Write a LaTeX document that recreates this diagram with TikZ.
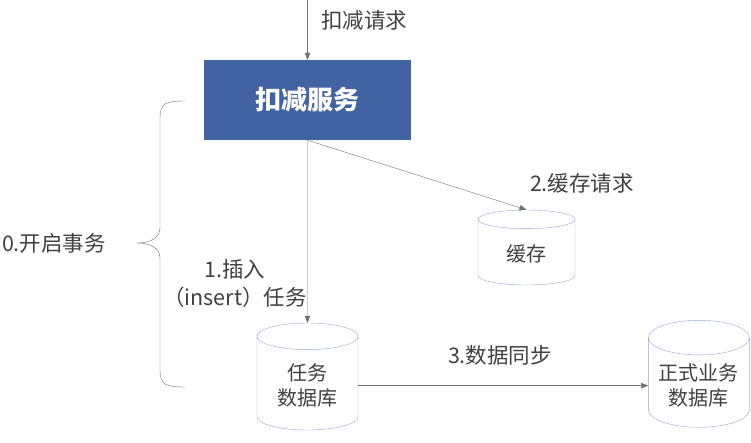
\documentclass[tikz,border=0pt]{standalone}
\usepackage{fontspec}
\setmainfont{Noto Sans CJK SC}
\usepackage{tikz}
\usetikzlibrary{shapes.geometric,arrows.meta,positioning}
\definecolor{svcblue}{RGB}{66,99,161}
\definecolor{dbedge}{RGB}{143,168,218}
\definecolor{inkgray}{RGB}{64,64,64}
\definecolor{wiregray}{RGB}{112,112,112}

\begin{document}
\begin{tikzpicture}[x=1pt,y=-1pt,node distance=290pt,font=\fontsize{21.5}{26}\selectfont,text=inkgray]
  \tikzstyle{service}=[rectangle,fill=svcblue,minimum width=207pt,minimum height=80pt,text=white,font=\fontsize{26}{30}\selectfont\bfseries]
  \tikzstyle{store}=[cylinder,shape border rotate=90,draw=dbedge,fill=white,aspect=0.4,align=center,anchor=shape center,font=\fontsize{20}{25}\selectfont]
  \tikzstyle{link}=[draw=wiregray,-{Triangle[length=7pt,width=5.5pt]}]
  \tikzstyle{note}=[align=center,inner sep=0pt]
  \useasboundingbox (0,0) rectangle (751,443);
  \coordinate (entry) at (307.5,0);
  \node[service] (svc) at (307.5,100) {扣减服务};
  \node[store,minimum width=97pt,minimum height=75pt] (cache) at (526.5,247.5) {缓存};
  \node[store,minimum width=101pt,minimum height=107pt] (taskdb) at (307.5,376.5) {任务\\数据库};
  \node[store,minimum width=101pt,minimum height=107pt,right=of taskdb] (bizdb) {正式业务\\数据库};
  \draw[link] (entry) -- (svc.north);
  \draw[link] (svc.south) -- (taskdb.north);
  \draw[link] (svc.south) -- (cache.north);
  \draw[link] (taskdb.east) -- (bizdb.west);
  \node[note] (reqlbl) at (364,20) {扣减请求};
  \node[note] (cachelbl) at (582,183) {2.缓存请求};
  \node[note,font=\fontsize{21.5}{28}\selectfont] (insertlbl) at (235,284) {1.插入\\（insert）任务};
  \node[note] (synclbl) at (500,355) {3.数据同步};
  \node[note] (txlbl) at (54,243) {0.开启事务};
  % brace round the transaction
  \draw[wiregray] (185,101) .. controls (166,101) and (160,103) .. (160,118) -- (160,228)
    .. controls (160,238) and (150,243) .. (137,243)
    .. controls (150,243) and (160,248) .. (160,258) -- (160,370)
    .. controls (160,385) and (166,387) .. (185,387);
\end{tikzpicture}
\end{document}
